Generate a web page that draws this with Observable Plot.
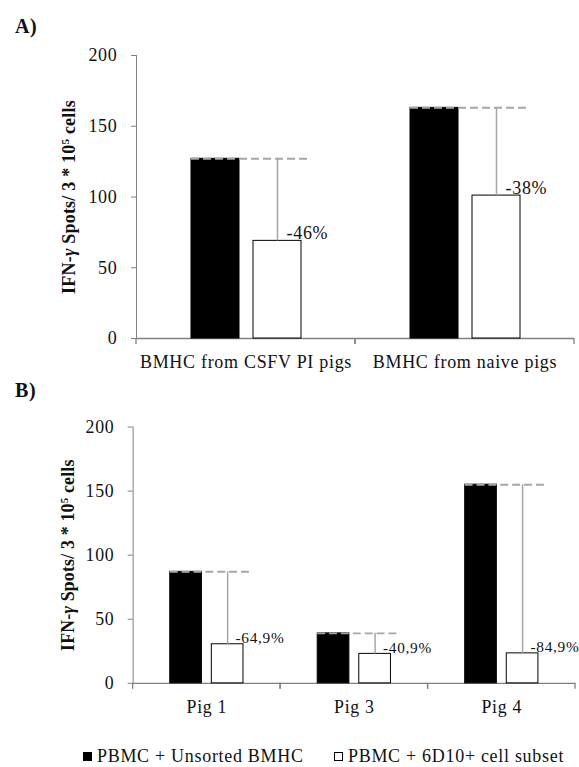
<!DOCTYPE html>
<html>
<head>
<meta charset="utf-8">
<script src="https://cdn.jsdelivr.net/npm/d3@7"></script>
<script src="https://cdn.jsdelivr.net/npm/@observablehq/plot@0.6"></script>
<style>
html, body { margin: 0; padding: 0; background: #fff; overflow: hidden; }
#page { position: relative; width: 579px; height: 767px; overflow: hidden; font-family: 'Liberation Serif', 'Times New Roman', serif; color: #111; }
.tag { position: absolute; font-weight: bold; font-size: 20px; line-height: 22px; letter-spacing: 0.6px; }
.chart { position: absolute; left: 0; }
.legend { position: absolute; top: 746px; font-size: 18px; line-height: 20px; letter-spacing: 0.7px; display: flex; align-items: center; white-space: nowrap; }
.sw { display: inline-block; width: 9px; height: 9px; margin-right: 5px; box-sizing: border-box; border: 1px solid #000; }
svg g[aria-label$="tick label"] { fill: #111; }
svg g[aria-label="y-axis label"] { fill: #111; font-weight: bold; letter-spacing: 0.2px; }
</style>
</head>
<body>
<div id="page"></div>
<script>
// ---- data ----
const seriesNames = ["PBMC + Unsorted BMHC", "PBMC + 6D10+ cell subset"];
const seriesColors = ["black", "white"];

const catsA = ["BMHC from CSFV PI pigs", "BMHC from naive pigs"];
const unsortedA = [127, 163];
const subsetA = [69, 101];
const pctA = ["-46%", "-38%"];

const catsB = ["Pig 1", "Pig 3", "Pig 4"];
const unsortedB = [87, 39, 155];
const subsetB = [30.5, 23, 23.4];
const pctB = ["-64,9%", "-40,9%", "-84,9%"];

const yTicks = [0, 50, 100, 150, 200];
const yDomain = [0, 200];
const yLabelParts = [["IFN-", ""], ["γ", "italic"], [" Spots/ 3 * 10", ""], ["5", "sup"], [" cells", ""]];
const yLabel = yLabelParts.map(p => p[0]).join("");
const panelTags = ["A)", "B)"];

// ---- drawing ----
const page = document.getElementById("page");

function panel(cats, unsorted, subset, pct, cfg) {
  const rows = cats.map((c, i) => ({cat: c, unsorted: unsorted[i], subset: subset[i], pct: pct[i]}));
  const bars = rows.flatMap(r => [
    {cat: r.cat, series: seriesNames[0], value: r.unsorted},
    {cat: r.cat, series: seriesNames[1], value: r.subset}
  ]);
  const boundaryTicks = (index, scales, values, dims) => {
    const y0 = scales.y(0);
    const g = d3.create("svg:g").attr("stroke", "#808080").attr("stroke-width", 1.3);
    for (const x of [dims.marginLeft, dims.width - dims.marginRight]) {
      g.append("line").attr("x1", x).attr("x2", x).attr("y1", y0).attr("y2", y0 + 6);
    }
    return g.node();
  };
  const svg = Plot.plot({
    width: cfg.width, height: cfg.height,
    marginTop: cfg.marginTop, marginLeft: cfg.marginLeft,
    marginRight: cfg.marginRight, marginBottom: cfg.marginBottom,
    style: {
      color: "#808080", background: "white", overflow: "visible",
      fontFamily: "'Liberation Serif', 'Times New Roman', serif",
      fontSize: "18px", letterSpacing: "0.7px"
    },
    x: {domain: seriesNames, paddingInner: 0.23, paddingOuter: 0.88, axis: null},
    fx: {domain: cats, padding: 0, axis: "bottom", tickSize: 0, tickPadding: 17, label: null},
    y: {domain: yDomain, ticks: yTicks, tickSize: 5, tickPadding: 14, line: true,
        label: yLabel, labelAnchor: "center", labelOffset: cfg.labelOffset},
    color: {domain: seriesNames, range: seriesColors},
    marks: [
      Plot.ruleY([0], {stroke: "#808080", strokeWidth: 1.3}),
      Plot.barY(bars, {fx: "cat", x: "series", y: "value", fill: "series", stroke: "black", strokeWidth: 1}),
      Plot.ruleY(rows, {fx: "cat", x1: () => seriesNames[0], x2: () => seriesNames[1], y: "unsorted",
        stroke: "#a6a6a6", strokeWidth: 2, strokeDasharray: "8,4", insetRight: -8}),
      Plot.ruleX(rows, {fx: "cat", x: () => seriesNames[1], y1: "subset", y2: "unsorted",
        stroke: "#a6a6a6", strokeWidth: 1.5}),
      Plot.text(rows, {fx: "cat", x: () => seriesNames[1], y: "subset", text: "pct",
        textAnchor: "start", lineAnchor: "bottom", dx: cfg.pctDx, dy: cfg.pctDy,
        fill: "#111", fontSize: cfg.pctSize}),
      boundaryTicks
    ]
  });
  // y label with italic gamma and superscript
  const t = d3.select(svg).select('g[aria-label="y-axis label"] text');
  if (!t.empty()) {
    t.text(null);
    for (const [s, kind] of yLabelParts) {
      const ts = t.append("tspan").text(s);
      if (kind === "italic") ts.attr("font-style", "italic");
      if (kind === "sup") ts.attr("baseline-shift", "super").attr("font-size", "0.62em");
    }
  }
  svg.classList.add("chart");
  svg.style.top = cfg.top + "px";
  svg.style.position = "absolute";
  return svg;
}

page.appendChild(panel(catsA, unsortedA, subsetA, pctA, {
  top: 0, width: 579, height: 380, marginTop: 55, marginLeft: 135, marginRight: 4.5, marginBottom: 42,
  pctSize: 18, pctDx: 9, pctDy: -2, labelOffset: 74
}));
page.appendChild(panel(catsB, unsortedB, subsetB, pctB, {
  top: 380, width: 585, height: 350, marginTop: 47, marginLeft: 133.5, marginRight: 3, marginBottom: 44,
  pctSize: 15.5, pctDx: 8, pctDy: -1, labelOffset: 73
}));

const tagTops = [15, 379];
panelTags.forEach((s, i) => {
  const d = document.createElement("div");
  d.className = "tag";
  d.style.left = "15px";
  d.style.top = tagTops[i] + "px";
  d.textContent = s;
  page.appendChild(d);
});

const legendLefts = [83, 334];
seriesNames.forEach((s, i) => {
  const d = document.createElement("div");
  d.className = "legend";
  d.style.left = legendLefts[i] + "px";
  const sw = document.createElement("span");
  sw.className = "sw";
  sw.style.background = seriesColors[i];
  d.appendChild(sw);
  d.appendChild(document.createTextNode(s));
  page.appendChild(d);
});
</script>
</body>
</html>
